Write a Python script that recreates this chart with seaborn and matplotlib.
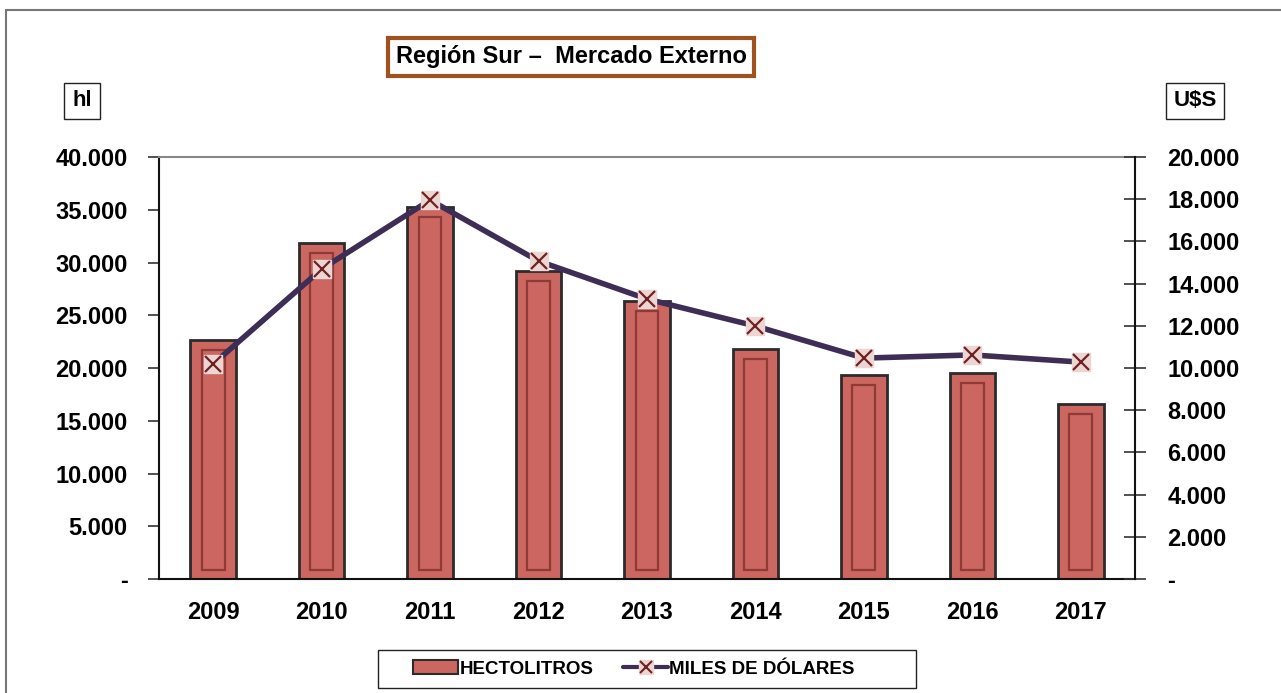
import numpy as np
import pandas as pd
import matplotlib
matplotlib.use("Agg")
import matplotlib.pyplot as plt
import seaborn as sns
from matplotlib.ticker import FuncFormatter, FixedLocator
from matplotlib.patches import Rectangle, Patch
from matplotlib.lines import Line2D
from matplotlib.legend_handler import HandlerTuple

# data
years = ["2009", "2010", "2011", "2012", "2013", "2014", "2015", "2016", "2017"]
hectolitros = [22650, 31850, 35250, 29200, 26350, 21800, 19350, 19550, 16600]
miles_dolares = [10190, 14690, 17960, 15070, 13270, 11990, 10470, 10620, 10280]

title = "Región Sur –  Mercado Externo"
left_unit = "hl"
right_unit = "U$S"

df = pd.DataFrame({"Año": years, "hl": hectolitros, "usd": miles_dolares})

sns.set_theme(style="white")
plt.rcParams["font.family"] = ["Liberation Sans", "DejaVu Sans"]
plt.rcParams["font.weight"] = "bold"
plt.rcParams["text.color"] = "black"
plt.rcParams["xtick.labelcolor"] = "black"
plt.rcParams["ytick.labelcolor"] = "black"

bar_col = "#CC6660"
line_col = "#3E2D55"
sq_col = "#EDD5D3"
x_col = "#6E2222"
fs = 17

fig = plt.figure(figsize=(12.81, 6.93), dpi=100)
ax = fig.add_axes([0.1241, 0.1645, 0.886 - 0.1241, 0.7734 - 0.1645])

# bars
sns.barplot(data=df, x="Año", y="hl", color=bar_col, width=0.42,
            edgecolor="#2b2b2b", linewidth=2, saturation=1, ax=ax)
# inner bevel look
for p in list(ax.patches):
    x0, w, h = p.get_x(), p.get_width(), p.get_height()
    ax.add_patch(Rectangle((x0 + w * 0.25, 850), w * 0.5, h - 1800,
                           fill=False, edgecolor="#8E3B38", linewidth=1.6, zorder=3))

ax.set_xlim(-0.5, len(years) - 0.5)
ax.set_ylim(0, 40000)
ax.set_yticks(np.arange(0, 40001, 5000))
fmt = FuncFormatter(lambda v, _: "-" if v == 0 else f"{int(v):,}".replace(",", "."))
ax.yaxis.set_major_formatter(fmt)
ax.set_xlabel("")
ax.set_ylabel("")

# x ticks between categories, labels centred
ax.xaxis.set_major_locator(FixedLocator(np.arange(-0.5, len(years), 1)))
ax.xaxis.set_major_formatter(FuncFormatter(lambda v, _: ""))
ax.xaxis.set_minor_locator(FixedLocator(np.arange(len(years))))
ax.set_xticklabels(years, minor=True)
ax.tick_params(axis="x", which="major", direction="out", length=9, width=1.2, color="#333333")
ax.tick_params(axis="x", which="minor", length=0, pad=15.5, labelsize=fs)
ax.tick_params(axis="y", direction="out", length=8, width=1.2, color="#333333",
               labelsize=fs, pad=14.5)
for lab in ax.get_xticklabels(minor=True) + ax.get_yticklabels():
    lab.set_fontweight("bold")

for s in ["left", "bottom"]:
    ax.spines[s].set_color("#111111")
    ax.spines[s].set_linewidth(1.5)
ax.spines["top"].set_color("#888888")
ax.spines["top"].set_linewidth(1.5)
ax.spines["right"].set_visible(False)

# line on secondary axis
ax2 = ax.twinx()
ax2.plot(range(len(years)), miles_dolares, color=line_col, linewidth=4, zorder=4)
ax2.plot(range(len(years)), miles_dolares, linestyle="none", marker="s", markersize=13,
         markerfacecolor=sq_col, markeredgecolor=sq_col, zorder=5)
ax2.plot(range(len(years)), miles_dolares, linestyle="none", marker="x", markersize=11,
         markeredgewidth=1.6, color=x_col, zorder=6)
ax2.set_ylim(0, 20000)
ax2.set_yticks(np.arange(0, 20001, 2000))
ax2.yaxis.set_major_formatter(fmt)
ax2.tick_params(axis="y", direction="inout", length=16, width=1.2, color="#333333",
                labelsize=fs, pad=15.5)
for lab in ax2.get_yticklabels():
    lab.set_fontweight("bold")
    lab.set_horizontalalignment("left")
for s in ["left", "top", "bottom"]:
    ax2.spines[s].set_visible(False)
ax2.spines["right"].set_color("#111111")
ax2.spines["right"].set_linewidth(1.5)

# title box
fig.text(571 / 1281, 1 - 57 / 693, title, ha="center", va="center", fontsize=fs,
         fontweight="bold",
         bbox=dict(boxstyle="square,pad=0.3", facecolor="white", edgecolor="#A0521E", linewidth=3))

# unit boxes
fig.text(82 / 1281, 1 - 101 / 693, left_unit, ha="center", va="center", fontsize=16,
         fontweight="bold",
         bbox=dict(boxstyle="square,pad=0.35", facecolor="white", edgecolor="#222222", linewidth=1))
fig.text(1195 / 1281, 1 - 101 / 693, right_unit, ha="center", va="center", fontsize=16,
         fontweight="bold",
         bbox=dict(boxstyle="square,pad=0.35", facecolor="white", edgecolor="#222222", linewidth=1))

# legend
bar_h = Patch(facecolor=bar_col, edgecolor="#2b2b2b", linewidth=1.5)
line_h = (Line2D([0], [0], color=line_col, linewidth=3),
          Line2D([0], [0], linestyle="none", marker="s", markersize=10,
                 markerfacecolor=sq_col, markeredgecolor=sq_col),
          Line2D([0], [0], linestyle="none", marker="x", markersize=9,
                 markeredgewidth=1.5, color=x_col))
leg = fig.legend([bar_h, line_h], ["HECTOLITROS", "MILES DE DÓLARES"], loc="center",
                 bbox_to_anchor=(634 / 1281, 1 - 669 / 693), ncol=2, frameon=False,
                 fontsize=13.5, handlelength=2.4, handletextpad=0.05,
                 columnspacing=1.6, handler_map={tuple: HandlerTuple(ndivide=1)})
for t in leg.get_texts():
    t.set_fontweight("bold")
fig.add_artist(Rectangle((378 / 1281, 1 - 688 / 693), 538 / 1281, 38 / 693,
                         transform=fig.transFigure, fill=False,
                         edgecolor="#222222", linewidth=1))

# outer chart border
fig.add_artist(Rectangle((6 / 1281, -0.05), 1.2, 1 - 10 / 693 + 0.05,
                         transform=fig.transFigure, fill=False,
                         edgecolor="#777777", linewidth=1.5))

fig.savefig("out.png", dpi=100)
